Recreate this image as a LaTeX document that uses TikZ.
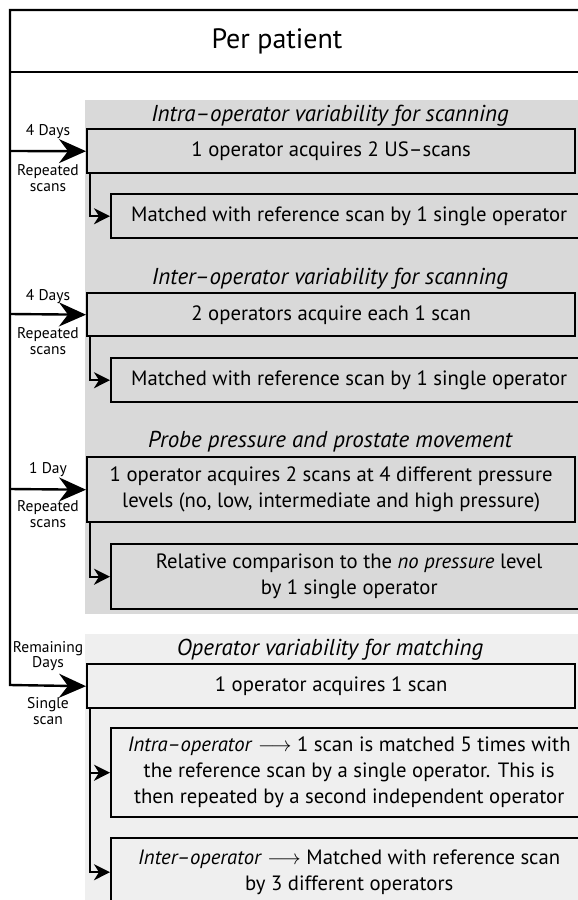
\documentclass[tikz,border=0pt]{standalone}
\usepackage{fontspec}
\setmainfont{PT Sans}
\usetikzlibrary{arrows.meta}
\definecolor{panelA}{HTML}{D9D9D9}
\definecolor{panelB}{HTML}{EFEFEF}
\begin{document}
\begin{tikzpicture}[x=1pt,y=-1pt,
 box/.style={draw, line width=2.4pt, anchor=north west, align=center, inner sep=0pt, font=\fontsize{20.7}{26}\selectfont},
 ttl/.style={font=\fontsize{23}{26}\selectfont\itshape},
 lbl/.style={font=\fontsize{15.5}{15.5}\selectfont, align=center},
 big/.style={line width=2.4pt, -{Stealth[length=27pt,width=24pt,inset=9pt]}},
 small/.style={line width=2.4pt, -{Stealth[length=16pt,width=16pt,inset=5pt]}}]
\useasboundingbox (0,0) rectangle (578,900);
\clip (0,0) rectangle (578,900);
\fill[white] (0,0) rectangle (578,900);
\fill[panelA] (85,100) rectangle (600,614);
\fill[panelB] (85,634) rectangle (600,905);
% header
\node[font=\fontsize{28}{32}\selectfont] (pp) at (277,41) {Per patient};
\draw[line width=2.6pt] (10,72) -- (600,72);
% spine coordinates
\coordinate (s1) at (10,151);
\coordinate (s2) at (10,314);
\coordinate (s3) at (10,489);
\coordinate (s4) at (10,685);
% titles
\node[ttl] (t1) at (330,116) {Intra–operator variability for scanning};
\node[ttl] (t2) at (330,279) {Inter–operator variability for scanning};
\node[ttl] (t3) at (330,442) {Probe pressure and prostate movement};
\node[ttl] (t4) at (330,650) {Operator variability for matching};
% boxes
\node[box, minimum width=488pt, minimum height=44pt] (b1) at (86,128) {1 operator acquires 2 US–scans};
\node[box, minimum width=476pt, minimum height=44pt] (b2) at (110,193) {Matched with reference scan by 1 single operator};
\node[box, minimum width=488pt, minimum height=43pt] (b3) at (86,292) {2 operators acquire each 1 scan};
\node[box, minimum width=476pt, minimum height=44pt] (b4) at (110,357) {Matched with reference scan by 1 single operator};
\node[box, minimum width=488pt, minimum height=65pt] (b5) at (86,456) {1 operator acquires 2 scans at 4 different pressure\\levels (no, low, intermediate and high pressure)};
\node[box, minimum width=476pt, minimum height=65pt] (b6) at (110,543) {Relative comparison to the \textit{no pressure} level\\by 1 single operator};
\node[box, minimum width=488pt, minimum height=44pt] (b7) at (86,663) {1 operator acquires 1 scan};
\node[box, minimum width=476pt, minimum height=89pt] (b8) at (110,727) {\textit{Intra–operator} $\longrightarrow$ 1 scan is matched 5 times with\\the reference scan by a single operator. This is\\then repeated by a second independent operator};
\node[box, minimum width=476pt, minimum height=68pt] (b9) at (110,837) {\textit{Inter–operator} $\longrightarrow$ Matched with reference scan\\by 3 different operators};
% spine and main arrows
\draw[big] (600,10) -| (s4) -- (b7.west);
\draw[big] (s1) -- (b1.west);
\draw[big] (s2) -- (b3.west);
\draw[big] (s3) -- (b5.west);
% sub arrows
\draw[small] ([xshift=4pt]b1.south west) |- (b2.west);
\draw[small] ([xshift=4pt]b3.south west) |- (b4.west);
\draw[small] ([xshift=4pt]b5.south west) |- (b6.west);
\draw[small] ([xshift=4pt]b7.south west) |- (b8.west);
\draw[small] ([xshift=4pt]b7.south west) |- (b9.west);
% labels
\node[lbl] (l1a) at (48,132) {4 Days};
\node[lbl] (l1b) at (48,178) {Repeated\\scans};
\node[lbl] (l2a) at (48,297) {4 Days};
\node[lbl] (l2b) at (48,341) {Repeated\\scans};
\node[lbl] (l3a) at (48,470) {1 Day};
\node[lbl] (l3b) at (48,514) {Repeated\\scans};
\node[lbl] (l4a) at (48,656) {Remaining\\Days};
\node[lbl] (l4b) at (48,711) {Single\\scan};
\end{tikzpicture}
\end{document}
